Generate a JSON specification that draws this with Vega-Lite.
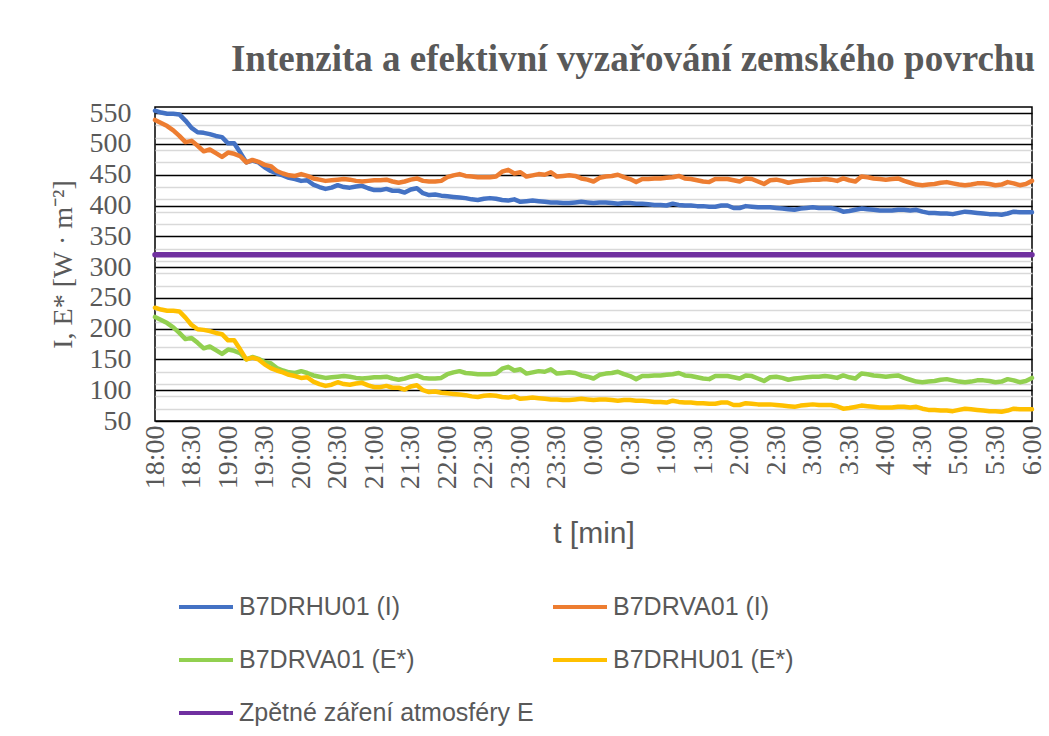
{
  "$schema": "https://vega.github.io/schema/vega-lite/v6.json",
  "width": 877,
  "height": 314,
  "autosize": {"type": "none"},
  "padding": {"left": 155, "top": 107, "right": 17, "bottom": 315},
  "background": "white",
  "title": {"text": "Intenzita a efektivní vyzařování zemského povrchu", "anchor": "end", "frame": "group", "dx": 3, "font": "Liberation Serif", "fontSize": 37, "fontWeight": "bold", "color": "#595959", "offset": 20},
  "config": {"view": {"stroke": "#000000", "strokeWidth": 1.5}},
  "data": {"values": [
    {"m":0,"a":554,"b":539,"c":219,"d":234,"e":320},
    {"m":5,"a":551,"b":534,"c":214,"d":231,"e":320},
    {"m":10,"a":549,"b":529,"c":209,"d":229,"e":320},
    {"m":15,"a":549,"b":522,"c":202,"d":229,"e":320},
    {"m":20,"a":548,"b":513,"c":193,"d":228,"e":320},
    {"m":25,"a":538,"b":503,"c":183,"d":218,"e":320},
    {"m":30,"a":526,"b":505,"c":185,"d":206,"e":320},
    {"m":35,"a":519,"b":497,"c":177,"d":199,"e":320},
    {"m":40,"a":518,"b":488,"c":168,"d":198,"e":320},
    {"m":45,"a":516,"b":491,"c":171,"d":196,"e":320},
    {"m":50,"a":513,"b":485,"c":165,"d":193,"e":320},
    {"m":55,"a":511,"b":479,"c":159,"d":191,"e":320},
    {"m":60,"a":501,"b":486,"c":166,"d":181,"e":320},
    {"m":65,"a":501,"b":484,"c":164,"d":181,"e":320},
    {"m":70,"a":486,"b":480,"c":160,"d":166,"e":320},
    {"m":75,"a":470,"b":470,"c":150,"d":150,"e":320},
    {"m":80,"a":473,"b":474,"c":154,"d":153,"e":320},
    {"m":85,"a":470,"b":471,"c":151,"d":150,"e":320},
    {"m":90,"a":462,"b":466,"c":146,"d":142,"e":320},
    {"m":95,"a":456,"b":464,"c":144,"d":136,"e":320},
    {"m":100,"a":452,"b":456,"c":136,"d":132,"e":320},
    {"m":105,"a":449,"b":452,"c":132,"d":129,"e":320},
    {"m":110,"a":445,"b":449,"c":129,"d":125,"e":320},
    {"m":115,"a":443,"b":448,"c":128,"d":123,"e":320},
    {"m":120,"a":440,"b":451,"c":131,"d":120,"e":320},
    {"m":125,"a":441,"b":448,"c":128,"d":121,"e":320},
    {"m":130,"a":434,"b":444,"c":124,"d":114,"e":320},
    {"m":135,"a":430,"b":442,"c":122,"d":110,"e":320},
    {"m":140,"a":427,"b":440,"c":120,"d":107,"e":320},
    {"m":145,"a":429,"b":441,"c":121,"d":109,"e":320},
    {"m":150,"a":433,"b":442,"c":122,"d":113,"e":320},
    {"m":155,"a":430,"b":443,"c":123,"d":110,"e":320},
    {"m":160,"a":429,"b":442,"c":122,"d":109,"e":320},
    {"m":165,"a":431,"b":440,"c":120,"d":111,"e":320},
    {"m":170,"a":432,"b":439,"c":119,"d":112,"e":320},
    {"m":175,"a":428,"b":440,"c":120,"d":108,"e":320},
    {"m":180,"a":425,"b":441,"c":121,"d":105,"e":320},
    {"m":185,"a":425,"b":441,"c":121,"d":105,"e":320},
    {"m":190,"a":427,"b":442,"c":122,"d":107,"e":320},
    {"m":195,"a":424,"b":439,"c":119,"d":104,"e":320},
    {"m":200,"a":424,"b":437,"c":117,"d":104,"e":320},
    {"m":205,"a":421,"b":439,"c":119,"d":101,"e":320},
    {"m":210,"a":426,"b":442,"c":122,"d":106,"e":320},
    {"m":215,"a":428,"b":444,"c":124,"d":108,"e":320},
    {"m":220,"a":420,"b":440,"c":120,"d":100,"e":320},
    {"m":225,"a":417,"b":439,"c":119,"d":97,"e":320},
    {"m":230,"a":418,"b":439,"c":119,"d":98,"e":320},
    {"m":235,"a":416,"b":440,"c":120,"d":96,"e":320},
    {"m":240,"a":415,"b":446,"c":126,"d":95,"e":320},
    {"m":245,"a":414,"b":449,"c":129,"d":94,"e":320},
    {"m":250,"a":413,"b":451,"c":131,"d":93,"e":320},
    {"m":255,"a":412,"b":448,"c":128,"d":92,"e":320},
    {"m":260,"a":410,"b":447,"c":127,"d":90,"e":320},
    {"m":265,"a":409,"b":446,"c":126,"d":89,"e":320},
    {"m":270,"a":411,"b":446,"c":126,"d":91,"e":320},
    {"m":275,"a":412,"b":446,"c":126,"d":92,"e":320},
    {"m":280,"a":411,"b":447,"c":127,"d":91,"e":320},
    {"m":285,"a":409,"b":455,"c":135,"d":89,"e":320},
    {"m":290,"a":408,"b":458,"c":138,"d":88,"e":320},
    {"m":295,"a":410,"b":452,"c":132,"d":90,"e":320},
    {"m":300,"a":406,"b":454,"c":134,"d":86,"e":320},
    {"m":305,"a":407,"b":447,"c":127,"d":87,"e":320},
    {"m":310,"a":408,"b":449,"c":129,"d":88,"e":320},
    {"m":315,"a":407,"b":451,"c":131,"d":87,"e":320},
    {"m":320,"a":406,"b":450,"c":130,"d":86,"e":320},
    {"m":325,"a":405,"b":454,"c":134,"d":85,"e":320},
    {"m":330,"a":405,"b":447,"c":127,"d":85,"e":320},
    {"m":335,"a":404,"b":448,"c":128,"d":84,"e":320},
    {"m":340,"a":404,"b":449,"c":129,"d":84,"e":320},
    {"m":345,"a":405,"b":448,"c":128,"d":85,"e":320},
    {"m":350,"a":406,"b":444,"c":124,"d":86,"e":320},
    {"m":355,"a":405,"b":442,"c":122,"d":85,"e":320},
    {"m":360,"a":404,"b":439,"c":119,"d":84,"e":320},
    {"m":365,"a":405,"b":445,"c":125,"d":85,"e":320},
    {"m":370,"a":405,"b":447,"c":127,"d":85,"e":320},
    {"m":375,"a":404,"b":448,"c":128,"d":84,"e":320},
    {"m":380,"a":403,"b":450,"c":130,"d":83,"e":320},
    {"m":385,"a":404,"b":446,"c":126,"d":84,"e":320},
    {"m":390,"a":404,"b":443,"c":123,"d":84,"e":320},
    {"m":395,"a":403,"b":438,"c":118,"d":83,"e":320},
    {"m":400,"a":403,"b":443,"c":123,"d":83,"e":320},
    {"m":405,"a":402,"b":443,"c":123,"d":82,"e":320},
    {"m":410,"a":401,"b":444,"c":124,"d":81,"e":320},
    {"m":415,"a":401,"b":444,"c":124,"d":81,"e":320},
    {"m":420,"a":400,"b":445,"c":125,"d":80,"e":320},
    {"m":425,"a":403,"b":446,"c":126,"d":83,"e":320},
    {"m":430,"a":401,"b":448,"c":128,"d":81,"e":320},
    {"m":435,"a":400,"b":444,"c":124,"d":80,"e":320},
    {"m":440,"a":400,"b":443,"c":123,"d":80,"e":320},
    {"m":445,"a":399,"b":441,"c":121,"d":79,"e":320},
    {"m":450,"a":399,"b":439,"c":119,"d":79,"e":320},
    {"m":455,"a":398,"b":438,"c":118,"d":78,"e":320},
    {"m":460,"a":398,"b":443,"c":123,"d":78,"e":320},
    {"m":465,"a":400,"b":443,"c":123,"d":80,"e":320},
    {"m":470,"a":400,"b":443,"c":123,"d":80,"e":320},
    {"m":475,"a":396,"b":441,"c":121,"d":76,"e":320},
    {"m":480,"a":396,"b":439,"c":119,"d":76,"e":320},
    {"m":485,"a":399,"b":444,"c":124,"d":79,"e":320},
    {"m":490,"a":398,"b":443,"c":123,"d":78,"e":320},
    {"m":495,"a":397,"b":439,"c":119,"d":77,"e":320},
    {"m":500,"a":397,"b":435,"c":115,"d":77,"e":320},
    {"m":505,"a":397,"b":441,"c":121,"d":77,"e":320},
    {"m":510,"a":396,"b":442,"c":122,"d":76,"e":320},
    {"m":515,"a":395,"b":440,"c":120,"d":75,"e":320},
    {"m":520,"a":394,"b":437,"c":117,"d":74,"e":320},
    {"m":525,"a":393,"b":439,"c":119,"d":73,"e":320},
    {"m":530,"a":395,"b":440,"c":120,"d":75,"e":320},
    {"m":535,"a":396,"b":441,"c":121,"d":76,"e":320},
    {"m":540,"a":397,"b":442,"c":122,"d":77,"e":320},
    {"m":545,"a":396,"b":442,"c":122,"d":76,"e":320},
    {"m":550,"a":396,"b":443,"c":123,"d":76,"e":320},
    {"m":555,"a":396,"b":442,"c":122,"d":76,"e":320},
    {"m":560,"a":394,"b":440,"c":120,"d":74,"e":320},
    {"m":565,"a":390,"b":444,"c":124,"d":70,"e":320},
    {"m":570,"a":391,"b":441,"c":121,"d":71,"e":320},
    {"m":575,"a":393,"b":439,"c":119,"d":73,"e":320},
    {"m":580,"a":395,"b":447,"c":127,"d":75,"e":320},
    {"m":585,"a":394,"b":446,"c":126,"d":74,"e":320},
    {"m":590,"a":393,"b":444,"c":124,"d":73,"e":320},
    {"m":595,"a":392,"b":443,"c":123,"d":72,"e":320},
    {"m":600,"a":392,"b":442,"c":122,"d":72,"e":320},
    {"m":605,"a":392,"b":443,"c":123,"d":72,"e":320},
    {"m":610,"a":393,"b":444,"c":124,"d":73,"e":320},
    {"m":615,"a":393,"b":440,"c":120,"d":73,"e":320},
    {"m":620,"a":392,"b":437,"c":117,"d":72,"e":320},
    {"m":625,"a":393,"b":434,"c":114,"d":73,"e":320},
    {"m":630,"a":390,"b":433,"c":113,"d":70,"e":320},
    {"m":635,"a":388,"b":434,"c":114,"d":68,"e":320},
    {"m":640,"a":388,"b":435,"c":115,"d":68,"e":320},
    {"m":645,"a":387,"b":437,"c":117,"d":67,"e":320},
    {"m":650,"a":387,"b":438,"c":118,"d":67,"e":320},
    {"m":655,"a":386,"b":436,"c":116,"d":66,"e":320},
    {"m":660,"a":388,"b":434,"c":114,"d":68,"e":320},
    {"m":665,"a":390,"b":433,"c":113,"d":70,"e":320},
    {"m":670,"a":389,"b":434,"c":114,"d":69,"e":320},
    {"m":675,"a":388,"b":436,"c":116,"d":68,"e":320},
    {"m":680,"a":387,"b":436,"c":116,"d":67,"e":320},
    {"m":685,"a":386,"b":435,"c":115,"d":66,"e":320},
    {"m":690,"a":386,"b":433,"c":113,"d":66,"e":320},
    {"m":695,"a":385,"b":434,"c":114,"d":65,"e":320},
    {"m":700,"a":387,"b":438,"c":118,"d":67,"e":320},
    {"m":705,"a":390,"b":436,"c":116,"d":70,"e":320},
    {"m":710,"a":389,"b":433,"c":113,"d":69,"e":320},
    {"m":715,"a":389,"b":435,"c":115,"d":69,"e":320},
    {"m":720,"a":389,"b":440,"c":120,"d":69,"e":320}
  ]},
  "transform": [{"fold": ["a", "b", "c", "d", "e"], "as": ["s", "v"]}],
  "resolve": {"axis": {"y": "independent"}},
  "layer": [
    {
      "mark": {"type": "point", "opacity": 0},
      "encoding": {
        "y": {"field": "v", "type": "quantitative",
          "scale": {"domain": [50, 560], "nice": false, "zero": false},
          "axis": {"orient": "left", "values": [70, 90, 110, 130, 170, 190, 210, 230, 270, 290, 310, 330, 370, 390, 410, 430, 470, 490, 510, 530],
            "grid": true, "gridColor": "#D9D9D9", "gridWidth": 1.5, "labels": false, "ticks": false, "domain": false, "title": null}}
      }
    },
    {
      "mark": {"type": "line", "strokeJoin": "round", "strokeCap": "round"},
      "encoding": {
        "x": {"field": "m", "type": "quantitative", "scale": {"domain": [0, 720], "nice": false},
          "axis": {"values": [0, 30, 60, 90, 120, 150, 180, 210, 240, 270, 300, 330, 360, 390, 420, 450, 480, 510, 540, 570, 600, 630, 660, 690, 720],
            "labelExpr": "((floor(datum.value / 60) + 18) % 24) + ':' + (datum.value % 60 == 0 ? '00' : '30')",
            "labelAngle": -90, "labelOverlap": false, "labelFlush": false,
            "labelFont": "Liberation Serif", "labelFontSize": 28, "labelColor": "#595959", "labelPadding": 4,
            "domain": false, "ticks": false, "grid": false,
            "title": "t [min]", "titleFont": "Liberation Sans", "titleFontSize": 30, "titleFontWeight": "normal", "titleColor": "#595959", "titlePadding": 30}},
        "y": {"field": "v", "type": "quantitative",
          "scale": {"domain": [50, 560], "nice": false, "zero": false},
          "axis": {"orient": "left", "values": [50, 100, 150, 200, 250, 300, 350, 400, 450, 500, 550],
            "grid": true, "gridColor": "#000000", "gridWidth": 1.5, "domain": false, "ticks": false,
            "labelFont": "Liberation Serif", "labelFontSize": 28, "labelColor": "#595959", "labelPadding": 24,
            "title": "I, E* [W · m⁻²]", "titleFont": "Liberation Serif", "titleFontSize": 28, "titleFontWeight": "normal", "titleColor": "#595959", "titlePadding": 12}},
        "color": {"field": "s", "type": "nominal",
          "scale": {"domain": ["a", "c", "e", "b", "d"], "range": ["#4472C4", "#92D050", "#7030A0", "#ED7D31", "#FFC000"]},
          "legend": {"orient": "none", "legendX": 22, "legendY": 471, "columns": 2, "title": null,
            "symbolType": "stroke", "symbolSize": 2916, "symbolStrokeWidth": 4,
            "labelFont": "Liberation Sans", "labelFontSize": 25, "labelColor": "#595959", "labelOffset": 4, "labelLimit": 400,
            "rowPadding": 11, "columnPadding": 11,
            "labelExpr": "datum.value == 'a' ? 'B7DRHU01 (I)' : datum.value == 'b' ? 'B7DRVA01 (I)' : datum.value == 'c' ? 'B7DRVA01 (E*)' : datum.value == 'd' ? 'B7DRHU01 (E*)' : 'Zpětné záření atmosféry E'"}},
        "strokeWidth": {"condition": {"test": "datum.s == 'e'", "value": 5.5}, "value": 4.5}
      }
    }
  ]
}
